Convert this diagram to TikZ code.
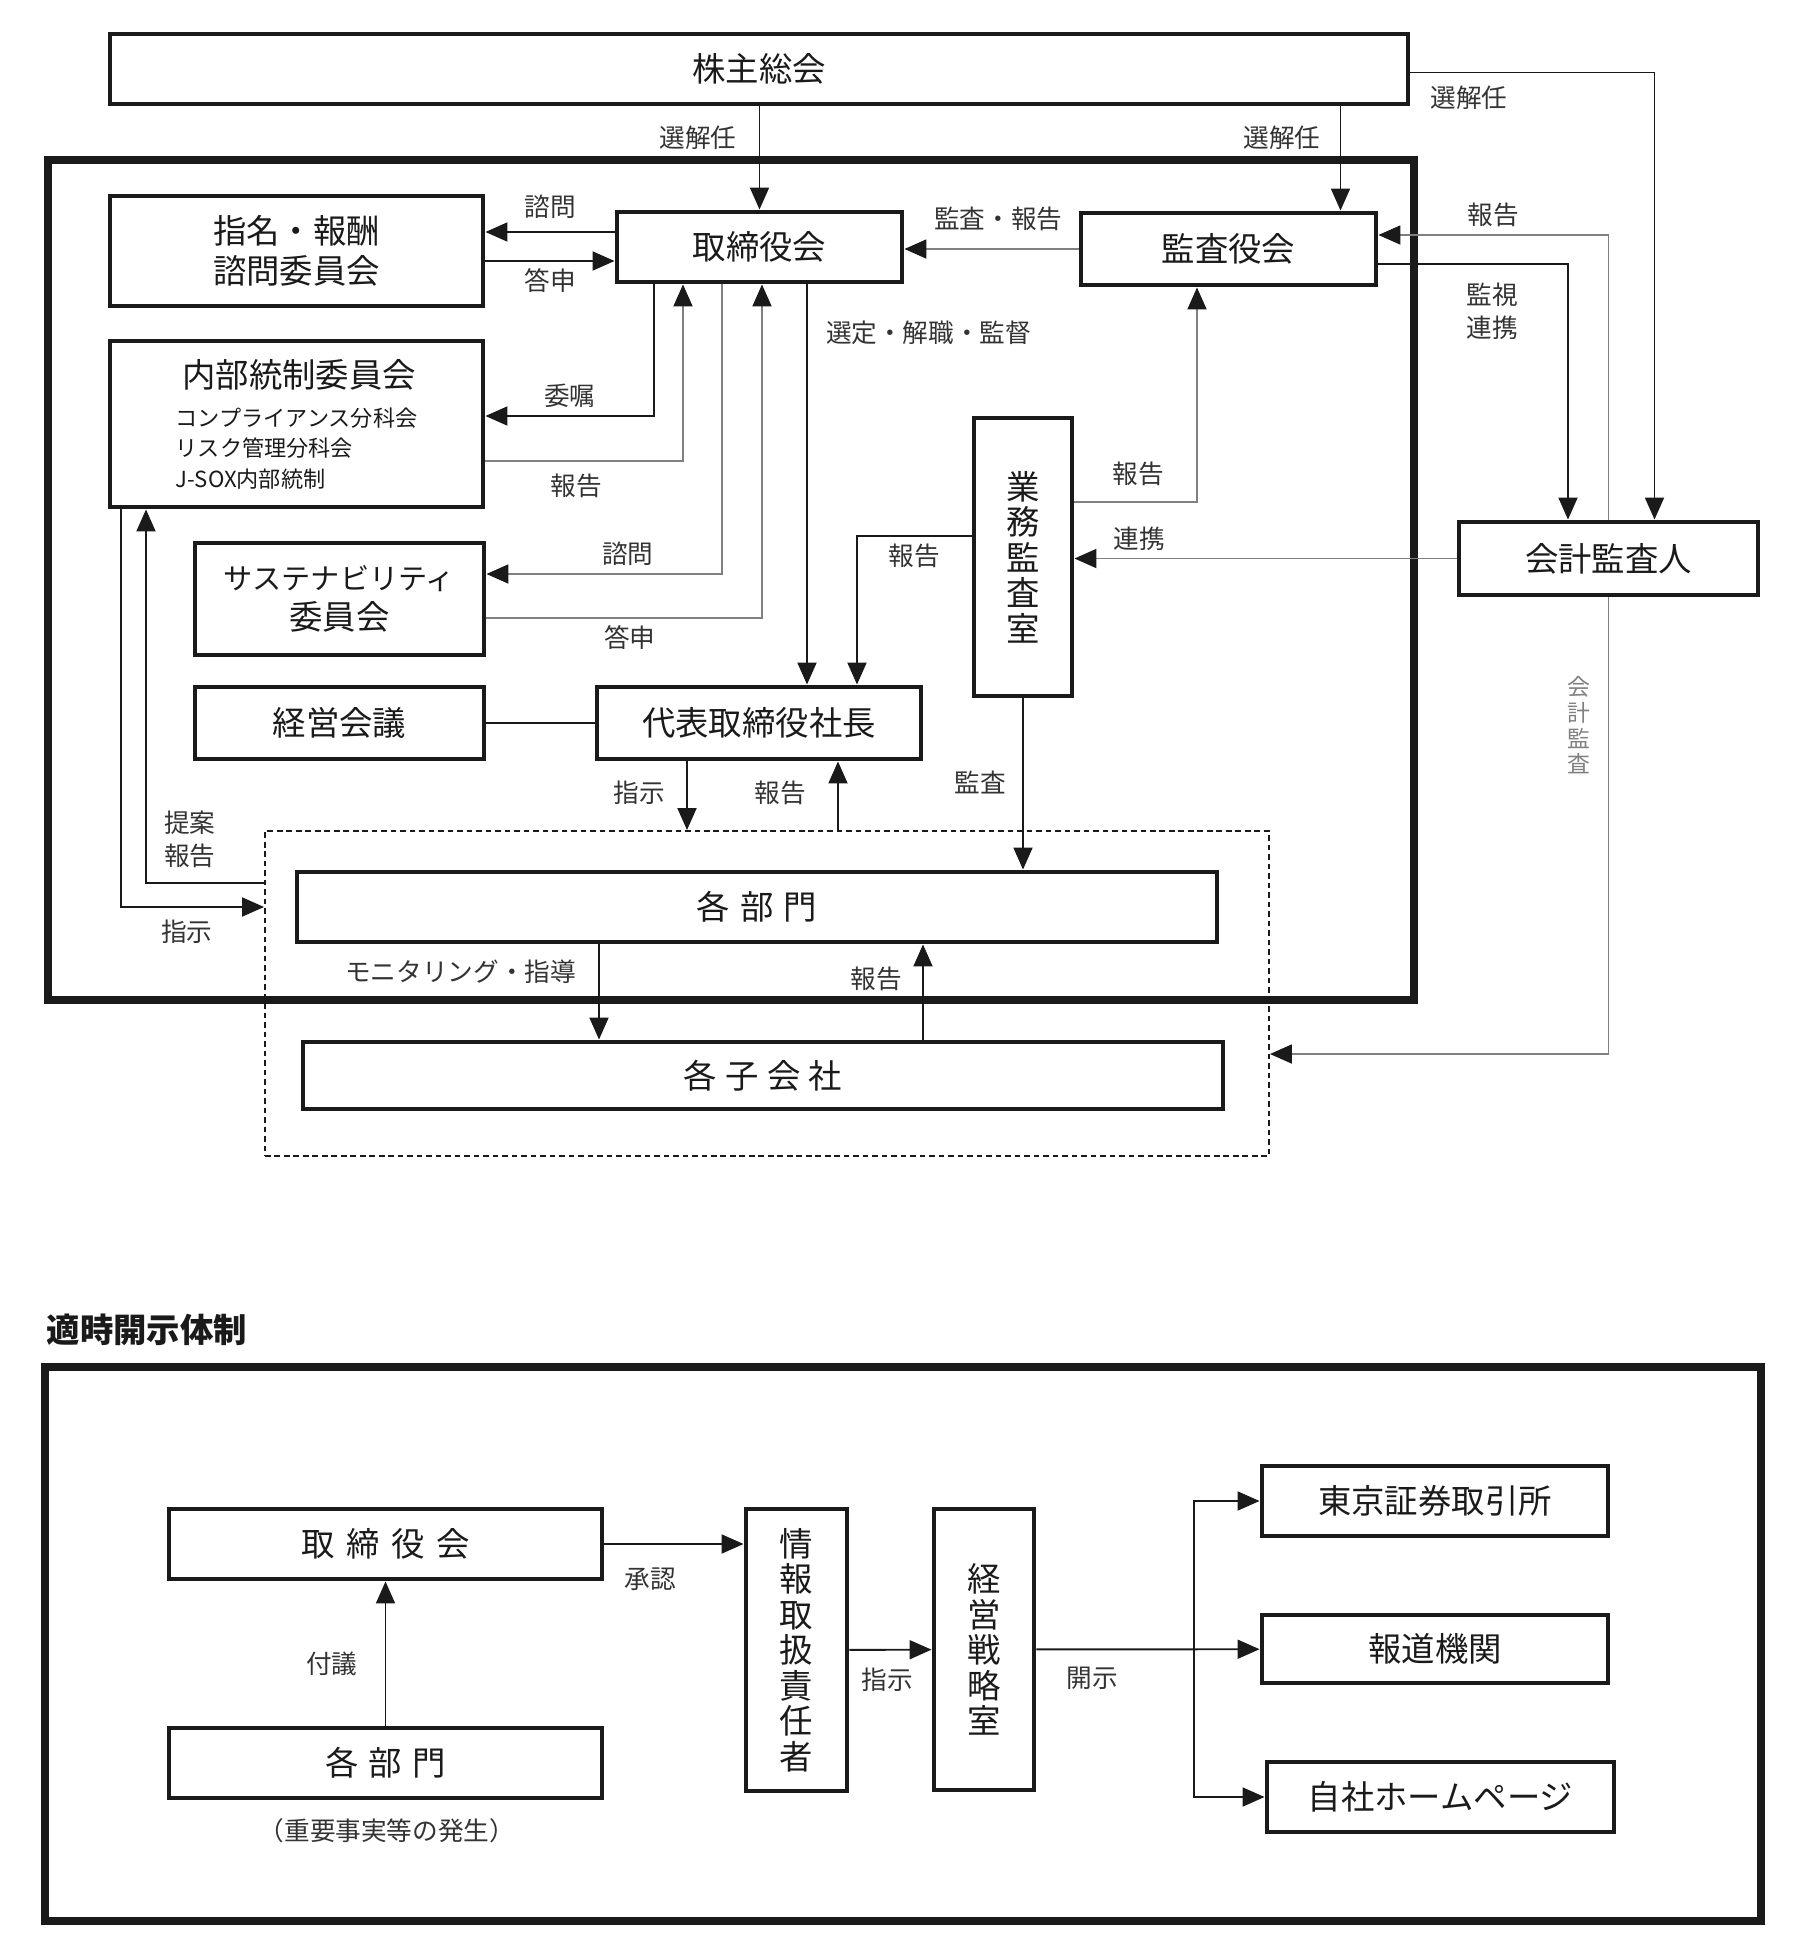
\documentclass[tikz,border=0pt]{standalone}
\usepackage{fontspec}
\setmainfont{Noto Sans CJK JP}
\usepackage{tikz}
\usetikzlibrary{arrows.meta,positioning,calc}
\definecolor{ChartInk}{HTML}{1A1A1A}
\definecolor{ChartGray}{HTML}{808080}
\definecolor{ChartLabel}{HTML}{333333}
\tikzset{
  orgbox/.style={draw=ChartInk, line width=1.4pt, align=center, inner sep=0pt,
    font=\fontsize{9.5}{11.3}\selectfont, text=ChartInk},
  tallbox/.style={orgbox, font=\fontsize{9.5}{10.1}\selectfont},
  outerframe/.style={draw=ChartInk, line width=2.3pt},
  groupbox/.style={draw=ChartInk, line width=0.55pt, dash pattern=on 1.6pt off 1.1pt},
  wire/.style={-{Triangle[length=2.2mm, width=1.9mm]}, line width=0.55pt, draw=ChartInk},
  greywire/.style={wire, draw=ChartGray, -{Triangle[length=2.2mm, width=1.9mm, color=ChartInk]}},
  plainwire/.style={line width=0.55pt, draw=ChartInk},
  labeltext/.style={font=\fontsize{7.3}{9.4}\selectfont, text=ChartLabel, inner sep=2pt, align=center},
  vlabel/.style={labeltext, font=\fontsize{6.5}{7.3}\selectfont, text=ChartGray}
}
\newcommand{\sublinefont}{\fontsize{6.3}{8.7}\selectfont}

\begin{document}
\begin{tikzpicture}[x=0.1mm, y=-0.1mm]
  \useasboundingbox (0,0) rectangle (1800,1960);
  \draw[outerframe] (48,160) rectangle (1414,1000);
  \node[groupbox, minimum width=100.4mm, minimum height=32.5mm] (group) at (767,993.5) {};

  \node[orgbox, minimum width=129.8mm, minimum height=7mm] (meeting) at (759,69) {株主総会};
  \node[orgbox, minimum width=37.3mm, minimum height=11mm] (nomination) at (296.5,251) {指名・報酬\\諮問委員会};
  \node[orgbox, minimum width=28.5mm, minimum height=7mm] (board) at (759.5,247) {取締役会};
  \node[orgbox, minimum width=29.5mm, minimum height=7.2mm] (auditors) at (1228.5,249) {監査役会};
  \node[orgbox, minimum width=37.3mm, minimum height=16.6mm, align=left, font=\fontsize{9.5}{8.7}\selectfont] (control) at (296.5,424)
    {\hspace{0.2em}内部統制委員会\\[2.4pt]\sublinefont コンプライアンス分科会\\\sublinefont リスク管理分科会\\\sublinefont J-SOX内部統制};
  \node[orgbox, minimum width=28.9mm, minimum height=11.2mm] (sustain) at (339.5,599)
    {{\fontsize{8.3}{11.3}\selectfont サステナビリティ}\\委員会};
  \node[orgbox, minimum width=28.9mm, minimum height=7.2mm] (council) at (339.5,723) {経営会議};
  \node[orgbox, minimum width=32.4mm, minimum height=7.2mm] (president) at (759,723) {代表取締役社長};
  \node[tallbox, minimum width=9.8mm, minimum height=27.8mm] (internal) at (1023,557) {業\\務\\監\\査\\室};
  \node[orgbox, minimum width=29.9mm, minimum height=7.3mm] (accountant) at (1608.5,558.5) {会計監査人};
  \node[orgbox, minimum width=92mm, minimum height=7mm] (divisions) at (757,907)
    {各\hspace{0.3em}部\hspace{0.3em}門};
  \node[orgbox, minimum width=92mm, minimum height=6.7mm] (subsidiaries) at (763,1075.5)
    {各\hspace{0.25em}子\hspace{0.25em}会\hspace{0.25em}社};

  \coordinate (auditorsTop) at ([xshift=11.2mm]auditors.north);
  \coordinate (accountantTop) at ([xshift=4.6mm]accountant.north);
  \coordinate (meetingRight) at ([yshift=-0.35mm]meeting.east);
  \coordinate (askNom) at ([yshift=1.5mm]board.west);
  \coordinate (answerNom) at ([yshift=-1.4mm]board.west);
  \coordinate (delegate) at ([xshift=-10.55mm]board.south);
  \coordinate (appoint) at ([xshift=4.75mm]board.south);
  \coordinate (instructDown) at ([xshift=-7.2mm]president.south);
  \coordinate (reportUp) at ([xshift=7.9mm]president.south);
  \coordinate (monitor) at ([xshift=-15.8mm]divisions.south);
  \coordinate (subReport) at ([xshift=16mm]subsidiaries.north);

  \draw[wire] (board.north |- meeting.south) -- node[labeltext, left, pos=0.3, xshift=-1.5mm]{選解任} (board.north);
  \draw[wire] (auditorsTop |- meeting.south) -- node[labeltext, left, pos=0.3, xshift=-1.2mm]{選解任} (auditorsTop);
  \draw[wire] (meetingRight) -| node[labeltext, below, pos=0.12, yshift=-0.5mm]{選解任} (accountantTop);
  \draw[wire] (askNom) -- node[labeltext, above, pos=0.5, yshift=0.5mm]{諮問} (askNom -| nomination.east);
  \draw[wire] (answerNom -| nomination.east) -- node[labeltext, below, pos=0.5]{答申} (answerNom);
  \draw[greywire] (auditors.west) -- node[labeltext, above, pos=0.46, yshift=1mm]{監査・報告} (auditors.west -| board.east);
  \draw[wire] (delegate) |- node[labeltext, above, pos=0.75]{委嘱} ([yshift=0.8mm]control.east);
  \draw[greywire] ([yshift=-3.7mm]control.east) -| node[labeltext, below, pos=0.23, yshift=-0.5mm]{報告} ([xshift=-7.65mm]board.south);
  \draw[greywire] ([xshift=-3.75mm]board.south) |- node[labeltext, above, pos=0.7]{諮問} ([yshift=2.5mm]sustain.east);
  \draw[greywire] ([yshift=-1.9mm]sustain.east) -| node[labeltext, below, pos=0.26]{答申} ([xshift=0.25mm]board.south);
  \draw[wire] (appoint) -- node[labeltext, right, pos=0.12, xshift=1.1mm]{選定・解職・監督} (appoint |- president.north);
  \draw[greywire] ([yshift=5.5mm]internal.east) -| node[labeltext, above, pos=0.26, yshift=0.8mm]{報告} ([xshift=-3.15mm]auditors.south);
  \draw[greywire] (accountant.west) -- node[labeltext, above, pos=0.83]{連携} (accountant.west -| internal.east);
  \draw[wire] ([yshift=2.1mm]internal.west) -| node[labeltext, below, pos=0.25]{報告} ([xshift=9.8mm]president.north);
  \draw[plainwire] (council) -- (president);
  \draw[wire] (instructDown) -- node[labeltext, left, pos=0.46, xshift=-1.4mm]{指示} (instructDown |- group.north);
  \draw[wire] (reportUp |- group.north) -- node[labeltext, left, pos=0.54, xshift=-2.4mm]{報告} (reportUp);
  \draw[wire] (internal.south) -- node[labeltext, left, pos=0.49, xshift=-0.9mm]{監査} (internal.south |- divisions.north);
  \draw[wire] ([xshift=-17.55mm]control.south) |- node[labeltext, below, pos=0.73, yshift=-0.5mm]{指示} ([yshift=8.65mm]group.west);
  \draw[wire] ([yshift=11.05mm]group.west) -| node[labeltext, above, pos=0.315, yshift=0.7mm]{提案\\報告} ([xshift=-15.05mm]control.south);
  \draw[wire] (monitor) -- node[labeltext, left, pos=0.29, xshift=-1.5mm]{モニタリング・指導} (monitor |- subsidiaries.north);
  \draw[wire] (subReport) -- node[labeltext, left, pos=0.64, xshift=-1.3mm]{報告} (subReport |- divisions.south);
  \draw[wire] ([yshift=-1.5mm]auditors.east) -| node[labeltext, below, pos=0.3, yshift=-1.1mm]{監視\\連携} ([xshift=-4.05mm]accountant.north);
  \draw[greywire] (accountant.north) |- node[labeltext, above, pos=0.75]{報告} ([yshift=1.4mm]auditors.east);
  \draw[greywire] (accountant.south) |- node[vlabel, left, pos=0.14, xshift=-1mm]{会\\計\\監\\査} ([yshift=-6.05mm]group.east);

  \node[anchor=west, font=\fontsize{9.5}{11}\selectfont\bfseries, text=ChartInk, inner sep=0pt] (disclosure) at (46,1330) {適時開示体制};
  \draw[outerframe] (45,1367) rectangle (1761,1921);
  \node[orgbox, minimum width=43.3mm, minimum height=7mm] (board2) at (385.5,1544)
    {取\hspace{0.35em}締\hspace{0.35em}役\hspace{0.35em}会};
  \node[orgbox, minimum width=43.3mm, minimum height=7mm] (divisions2) at (385.5,1763)
    {各\hspace{0.3em}部\hspace{0.3em}門};
  \node[labeltext] (occurrence) at (387,1831) {（重要事実等の発生）};
  \node[tallbox, minimum width=10.1mm, minimum height=28.2mm] (officer) at (796.5,1650)
    {情\\報\\取\\扱\\責\\任\\者};
  \node[tallbox, minimum width=10mm, minimum height=28.1mm] (strategy) at (984,1649.5)
    {経\\営\\戦\\略\\室};
  \node[orgbox, minimum width=34.6mm, minimum height=7mm] (exchange) at (1435,1501) {東京証券取引所};
  \node[orgbox, minimum width=34.6mm, minimum height=6.8mm] (press) at (1435,1649) {報道機関};
  \node[orgbox, minimum width=34.7mm, minimum height=7mm] (website) at (1440.5,1797) {自社ホームページ};

  \path (strategy.east -| exchange.west) ++(-6.6mm,0) coordinate (fork);
  \draw[wire] (divisions2) -- node[labeltext, left, pos=0.43, xshift=-2mm]{付議} (board2);
  \draw[wire] (board2.east) -- node[labeltext, below, pos=0.33, yshift=-1.6mm]{承認} (board2.east -| officer.west);
  \draw[wire] (officer) -- node[labeltext, below, pos=0.46, yshift=-1mm]{指示} (strategy);
  \draw[wire] (strategy) -- node[labeltext, below, pos=0.25, yshift=-1mm]{開示} (press);
  \draw[wire] (fork) |- (exchange.west);
  \draw[wire] (fork) |- (website.west);
\end{tikzpicture}
\end{document}
